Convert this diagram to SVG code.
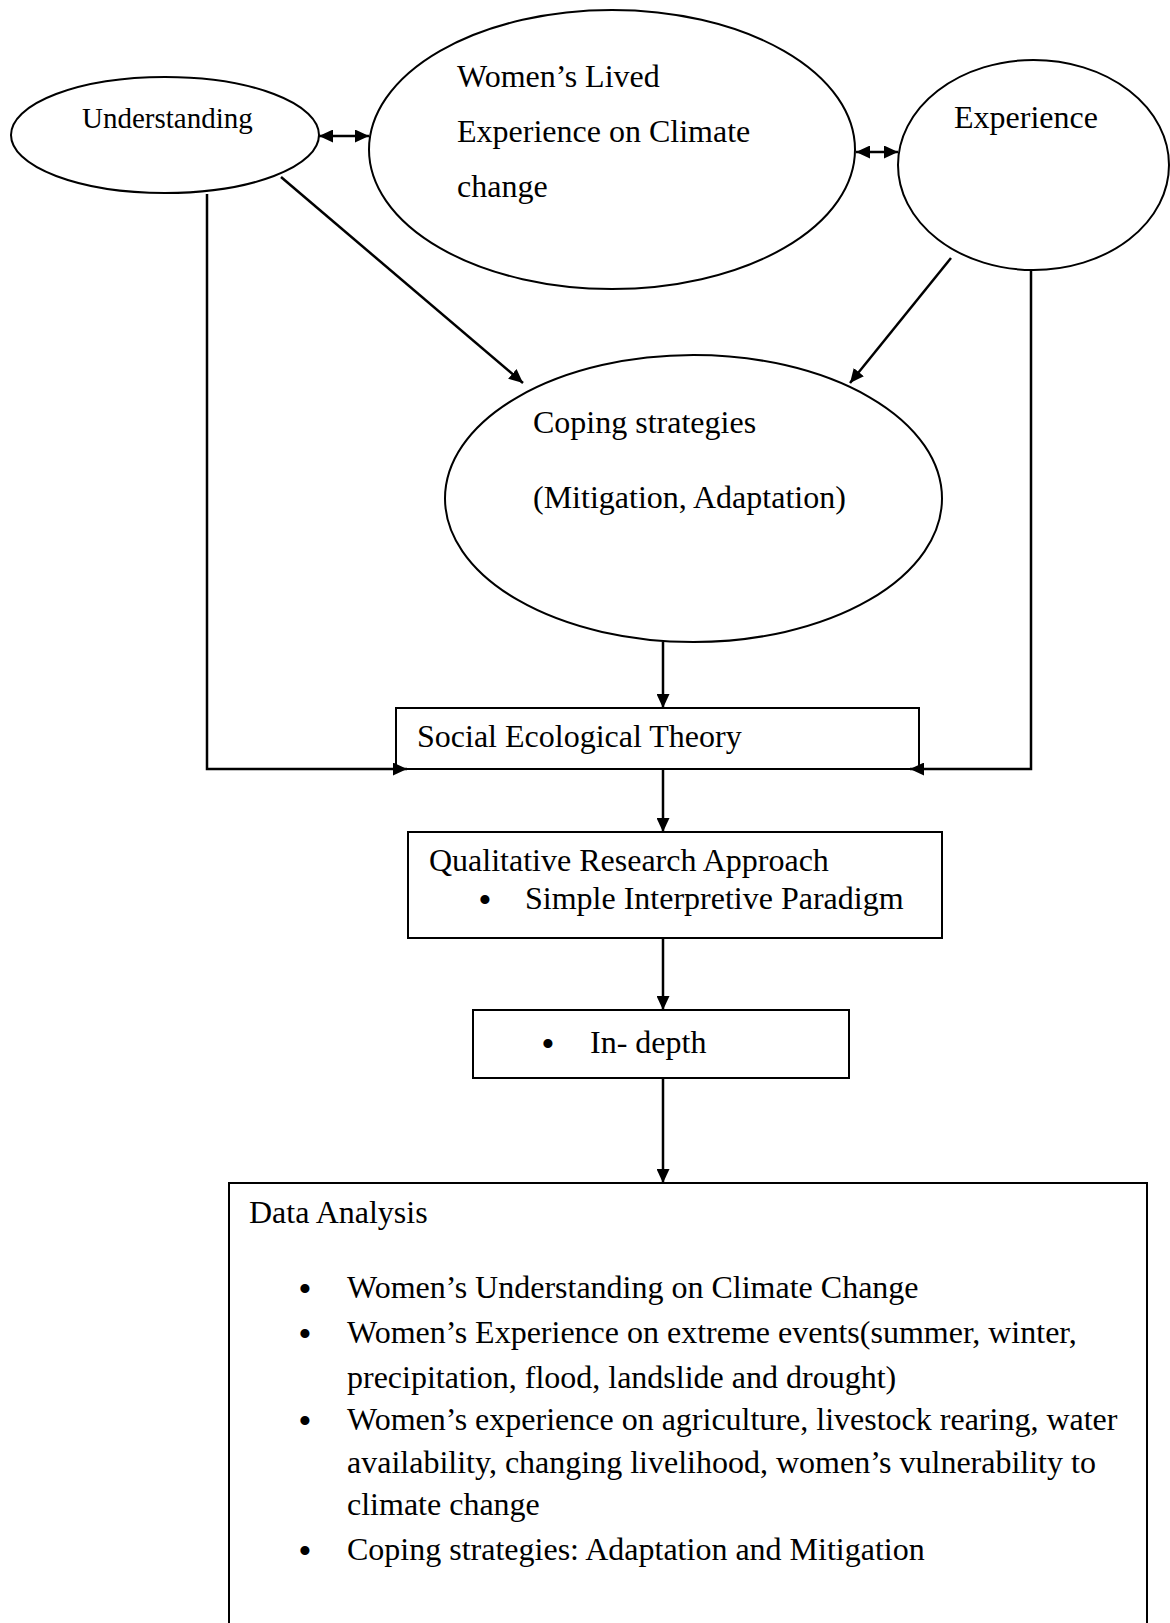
<svg xmlns="http://www.w3.org/2000/svg" width="1170" height="1623" viewBox="0 0 1170 1623">
<style>
.shape{fill:#fff;stroke:#000;stroke-width:2}
.conn{fill:none;stroke:#000;stroke-width:2.5}
text{font-family:"Liberation Serif","Times New Roman",serif;font-size:32px;fill:#000}
.small{font-size:29px}
.bul{text-anchor:middle;font-size:38px}
</style>
<defs>
<marker id="ah" markerUnits="userSpaceOnUse" markerWidth="14" markerHeight="13" refX="14" refY="6.5" orient="auto-start-reverse">
<path d="M0,0 L14,6.5 L0,13 z" fill="#000"/>
</marker>
</defs>
<rect width="1170" height="1623" fill="#fff"/>

<g id="node-understanding">
<ellipse class="shape" cx="165" cy="135" rx="154" ry="58"/>
<text class="small" x="82" y="128">Understanding</text>
</g>
<g id="node-lived">
<ellipse class="shape" cx="612" cy="149.5" rx="243" ry="139.5"/>
<text x="457" y="87">Women’s Lived</text>
<text x="457" y="142">Experience on Climate</text>
<text x="457" y="197">change</text>
</g>
<g id="node-experience">
<ellipse class="shape" cx="1033.5" cy="165" rx="135.5" ry="105"/>
<text x="954" y="128">Experience</text>
</g>
<g id="node-coping">
<ellipse class="shape" cx="693.5" cy="498.5" rx="248.5" ry="143.5"/>
<text x="533" y="433">Coping strategies</text>
<text x="533" y="508">(Mitigation, Adaptation)</text>
</g>
<g id="node-social">
<rect class="shape" x="396" y="708" width="523" height="61"/>
<text x="417" y="747">Social Ecological Theory</text>
</g>
<g id="node-qualitative">
<rect class="shape" x="408" y="832" width="534" height="106"/>
<text x="429" y="871">Qualitative Research Approach</text>
<text class="bul" x="485" y="913">•</text>
<text x="525" y="909">Simple Interpretive Paradigm</text>
</g>
<g id="node-indepth">
<rect class="shape" x="473" y="1010" width="376" height="68"/>
<text class="bul" x="548" y="1057">•</text>
<text x="590" y="1053">In- depth</text>
</g>
<g id="node-analysis">
<rect class="shape" x="229" y="1183" width="918" height="460"/>
<text x="249" y="1223">Data Analysis</text>
<text class="bul" x="305" y="1302">•</text>
<text x="347" y="1298">Women’s Understanding on Climate Change</text>
<text class="bul" x="305" y="1347">•</text>
<text x="347" y="1343">Women’s Experience on extreme events(summer, winter,</text>
<text x="347" y="1388">precipitation, flood, landslide and drought)</text>
<text class="bul" x="305" y="1434">•</text>
<text x="347" y="1430">Women’s experience on agriculture, livestock rearing, water</text>
<text x="347" y="1473">availability, changing livelihood, women’s vulnerability to</text>
<text x="347" y="1515">climate change</text>
<text class="bul" x="305" y="1564">•</text>
<text x="347" y="1560">Coping strategies: Adaptation and Mitigation</text>
</g>

<g id="connectors">
<line class="conn" x1="319" y1="136" x2="369" y2="136" marker-start="url(#ah)" marker-end="url(#ah)"/>
<line class="conn" x1="856" y1="152" x2="898" y2="152" marker-start="url(#ah)" marker-end="url(#ah)"/>
<line class="conn" x1="281" y1="177" x2="523" y2="383" marker-end="url(#ah)"/>
<line class="conn" x1="951" y1="258" x2="850" y2="383" marker-end="url(#ah)"/>
<polyline class="conn" points="207,194 207,769 407,769" marker-end="url(#ah)"/>
<polyline class="conn" points="1031,270 1031,769 910,769" marker-end="url(#ah)"/>
<line class="conn" x1="663" y1="642" x2="663" y2="708" marker-end="url(#ah)"/>
<line class="conn" x1="663" y1="769" x2="663" y2="832" marker-end="url(#ah)"/>
<line class="conn" x1="663" y1="938" x2="663" y2="1010" marker-end="url(#ah)"/>
<line class="conn" x1="663" y1="1078" x2="663" y2="1183" marker-end="url(#ah)"/>
</g>
</svg>
